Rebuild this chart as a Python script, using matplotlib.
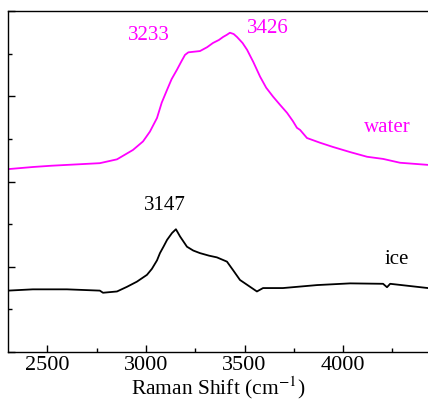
import matplotlib
matplotlib.use("Agg")
import matplotlib.pyplot as plt
from matplotlib.ticker import MultipleLocator

plt.rcParams['font.family'] = ['Liberation Serif', 'DejaVu Serif']
plt.rcParams['mathtext.fontset'] = 'stix'

# Water spectrum (offset upward)
water_x = [2300, 2426, 2520, 2766, 2853, 2934, 2985, 3020, 3056, 3080, 3107, 3130, 3157,
           3180, 3198, 3215, 3234, 3274, 3310, 3340, 3370, 3391, 3410, 3426, 3445, 3462,
           3490, 3513, 3545, 3579, 3610, 3645, 3680, 3716, 3745, 3766, 3782, 3817, 3883,
           3949, 4036, 4122, 4203, 4289, 4431]
water_y = [4.29, 4.34, 4.37, 4.43, 4.52, 4.74, 4.94, 5.17, 5.49, 5.85, 6.15, 6.40, 6.62,
           6.82, 6.97, 7.03, 7.04, 7.06, 7.15, 7.25, 7.32, 7.39, 7.44, 7.49, 7.46, 7.39,
           7.25, 7.09, 6.80, 6.46, 6.20, 5.99, 5.80, 5.61, 5.42, 5.26, 5.21, 5.02, 4.91,
           4.81, 4.69, 4.58, 4.53, 4.44, 4.39]

# Ice spectrum
ice_x = [2300, 2426, 2599, 2766, 2782, 2853, 2904, 2954, 3005, 3030, 3056, 3071, 3090,
         3107, 3132, 3152, 3173, 3208, 3240, 3274, 3320, 3360, 3411, 3442, 3477, 3528,
         3563, 3594, 3695, 3868, 4036, 4203, 4223, 4239, 4431]
ice_y = [1.44, 1.47, 1.47, 1.44, 1.39, 1.42, 1.53, 1.65, 1.81, 1.95, 2.15, 2.32, 2.48,
         2.63, 2.79, 2.88, 2.71, 2.47, 2.38, 2.32, 2.26, 2.22, 2.12, 1.92, 1.69, 1.53,
         1.42, 1.50, 1.50, 1.57, 1.61, 1.60, 1.52, 1.60, 1.50]

xticks = [2500, 3000, 3500, 4000]
xticklabels = ["2500", "3000", "3500", "4000"]

peak_labels = ["3233", "3426", "3147"]
curve_labels = ["water", "ice"]

fig = plt.figure(figsize=(4.28, 4.0), dpi=100)
ax = fig.add_axes([8/428, 48/400, 1 - 8/428, (352 - 11)/400])

ax.plot(water_x, water_y, color='#ff00ff', lw=1.3)
ax.plot(ice_x, ice_y, color='black', lw=1.3)

ax.set_xlim(2300, 4431)
ax.set_ylim(0, 8)

ax.set_xticks(xticks)
ax.set_xticklabels(xticklabels, fontsize=16)
ax.xaxis.set_minor_locator(MultipleLocator(250))
ax.yaxis.set_major_locator(MultipleLocator(2))
ax.yaxis.set_minor_locator(MultipleLocator(1))
ax.set_yticklabels([])
ax.tick_params(which='both', direction='in', top=False, right=False, width=1.0)
ax.tick_params(which='major', length=5, pad=3)
ax.tick_params(which='minor', length=3)
ax.spines['right'].set_visible(False)
for s in ['top', 'left', 'bottom']:
    ax.spines[s].set_linewidth(1.0)

ax.set_xlabel("Raman Shift (cm$^{-1}$)", fontsize=15.5, labelpad=-0.5)

ax.text(3015, 7.42, peak_labels[0], color='#ff00ff', fontsize=15, ha='center', va='center')
ax.text(3620, 7.58, peak_labels[1], color='#ff00ff', fontsize=15, ha='center', va='center')
ax.text(4225, 5.26, curve_labels[0], color='#ff00ff', fontsize=15, ha='center', va='center')
ax.text(3096, 3.43, peak_labels[2], color='black', fontsize=15, ha='center', va='center')
ax.text(4274, 2.18, curve_labels[1], color='black', fontsize=15, ha='center', va='center')

fig.savefig("out.png", dpi=100)
